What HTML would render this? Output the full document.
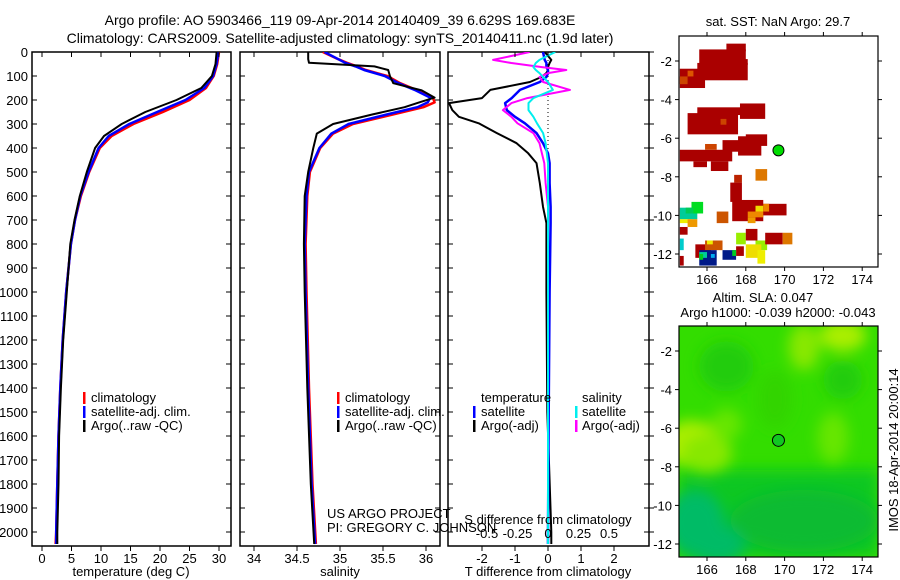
<!DOCTYPE html>
<html><head><meta charset="utf-8"><style>
html,body{margin:0;padding:0;background:#fff;}
svg{display:block;font-family:"Liberation Sans",sans-serif;}
text{font-size:13px;fill:#000;}
</style></head><body>
<svg id="fig" width="900" height="580" viewBox="0 0 900 580">
<defs>
<filter id="blur" x="-20%" y="-20%" width="140%" height="140%"><feGaussianBlur stdDeviation="7"/></filter>
<clipPath id="clip1"><rect x="679" y="36" width="199" height="231"/></clipPath>
<clipPath id="clip2"><rect x="679" y="326" width="199" height="231"/></clipPath>
<clipPath id="clipP1"><rect x="32" y="52" width="199" height="494"/></clipPath>
<clipPath id="clipP2"><rect x="240" y="52" width="200" height="494"/></clipPath>
<clipPath id="clipP3"><rect x="448" y="52" width="201" height="494"/></clipPath>
</defs>
<text x="340" y="25" text-anchor="middle" style="font-size:14px">Argo profile: AO 5903466_119 09-Apr-2014 20140409_39 6.629S 169.683E</text>
<text x="340" y="43" text-anchor="middle" style="font-size:14px">Climatology: CARS2009. Satellite-adjusted climatology: synTS_20140411.nc (1.9d later)</text>
<g id="g"></g>
</svg>
<script>
// ---------- data ----------
const depths = [0,50,100,150,200,250,300,350,400,500,600,700,800,1000,1200,1400,1600,1800,2000,2050];
const tempClim = [30.0,29.7,29.1,27.8,25.0,20.5,15.5,11.8,9.8,8.0,6.6,5.6,4.9,4.1,3.5,3.1,2.8,2.6,2.4,2.3];
const tempSat  = [29.9,29.6,29.0,27.5,24.3,19.5,14.8,11.3,9.6,7.9,6.5,5.6,4.9,4.1,3.5,3.1,2.8,2.6,2.4,2.4];
const tempArgo = [29.6,29.4,28.8,27.0,22.8,17.5,13.5,10.5,9.0,7.6,6.4,5.5,4.8,4.2,3.6,3.2,2.9,2.8,2.6,2.6];

const salDepths = [0,30,45,60,75,100,130,160,190,210,230,260,300,340,400,500,600,800,1000,1400,1800,2050];
const salClim = [34.80,34.98,35.08,35.20,35.30,35.55,35.70,35.90,36.08,36.10,35.97,35.62,35.15,34.92,34.77,34.65,34.62,34.60,34.61,34.64,34.68,34.72];
const salSat  = [34.82,34.98,35.06,35.18,35.28,35.52,35.68,35.88,36.05,36.02,35.90,35.55,35.10,34.90,34.76,34.64,34.61,34.59,34.60,34.63,34.67,34.71];
const salArgo = [34.63,34.63,34.64,35.40,35.56,35.58,35.62,35.95,36.10,35.92,35.75,35.38,34.92,34.73,34.69,34.63,34.59,34.58,34.59,34.62,34.66,34.70];

const diffDepths = [0,33,46,63,75,88,104,125,158,192,213,242,270,297,338,380,422,463,546,645,713,1000,1500,2000,2050];
const dTSat  = [-0.15,-0.1,-0.05,-0.05,0,0,-0.05,-0.25,-0.85,-1.1,-1.3,-1.25,-1.0,-0.7,-0.35,-0.15,0,0.05,0.05,0.08,0.08,0.05,0.02,0,0];
const dTArgo = [-0.1,0.1,0.05,0,0,-0.05,-0.2,-0.55,-1.75,-2.0,-3.0,-2.9,-2.7,-2.1,-1.55,-0.95,-0.6,-0.35,-0.25,-0.15,-0.05,-0.05,-0.02,0.1,0.1];
const dSSat  = [0.06,-0.07,-0.1,-0.12,-0.1,-0.07,-0.04,0,0.04,-0.12,-0.16,-0.16,-0.12,-0.09,-0.04,-0.02,-0.01,0,0,0,0,0,0,0,0];
const dSArgo = [-0.15,-0.45,-0.3,-0.05,0.15,0.0,-0.07,-0.04,0.18,-0.17,-0.3,-0.37,-0.3,-0.25,-0.12,-0.07,-0.05,-0.03,-0.02,0,0,0,0,0,0];

const depthTicks = [0,100,200,300,400,500,600,700,800,900,1000,1100,1200,1300,1400,1500,1600,1700,1800,1900,2000];
const tempTicks = [0,5,10,15,20,25,30];
const salTicks = [34,34.5,35,35.5,36];
const salTickLabels = ['34','34.5','35','35.5','36'];
const dTTicks = [-2,-1,0,1,2];
const dSTicks = [-0.5,-0.25,0,0.25,0.5];
const dSTickLabels = ['-0.5','-0.25','0','0.25','0.5'];

const lonTicks = [166,168,170,172,174];
const latTicks = [-2,-4,-6,-8,-10,-12];
const argoLon = 169.683, argoLat = -6.629;
// SST cells: lon0, lat0 (top), lon1, lat1 (bottom), colour
const sstCells = [
 [165.6,-1.4,168.0,-2.2,'#aa0000'],[167.0,-1.1,168.0,-1.5,'#aa0000'],
 [165.5,-2.1,168.1,-3.0,'#aa0000'],[167.0,-1.9,168.1,-2.2,'#aa0000'],
 [164.6,-2.4,165.9,-3.4,'#aa0000'],[164.6,-2.8,165.0,-3.2,'#cc4400'],[165.0,-2.5,165.3,-2.8,'#dd5500'],
 [165.0,-4.7,167.6,-5.8,'#aa0000'],[165.5,-4.4,168.0,-4.8,'#aa0000'],[167.7,-4.2,169.0,-5.0,'#aa0000'],[166.7,-5.0,167.0,-5.3,'#cc4400'],
 [164.6,-6.6,167.3,-7.2,'#aa0000'],[165.3,-7.2,166.0,-7.5,'#aa0000'],[166.2,-7.2,167.1,-7.7,'#aa0000'],[166.8,-6.1,168.0,-6.7,'#aa0000'],
 [167.6,-5.9,168.8,-6.9,'#aa0000'],[168.0,-5.8,169.1,-6.4,'#aa0000'],[165.9,-6.3,166.5,-6.6,'#cc4400'],
 [168.5,-7.6,169.1,-8.2,'#dd7700'],[167.2,-8.3,167.8,-9.3,'#aa0000'],[167.4,-7.9,167.8,-8.3,'#bb2200'],
 [167.3,-9.2,168.9,-10.3,'#aa0000'],[168.6,-9.4,170.1,-10.0,'#aa0000'],[168.5,-9.5,168.9,-9.8,'#eedd00'],[168.1,-9.8,168.9,-10.1,'#ee8800'],[168.9,-9.4,169.2,-9.8,'#ee8800'],[168.1,-10.1,168.5,-10.4,'#ee9900'],
 [166.5,-9.8,167.1,-10.4,'#cc5500'],[164.6,-9.6,165.5,-10.2,'#00cc99'],[165.2,-9.3,165.8,-9.9,'#00dd22'],[164.9,-9.6,165.3,-9.9,'#00cc55'],
 [164.6,-10.2,165.2,-10.4,'#eeee00'],[165.0,-10.2,165.5,-10.6,'#ee9900'],[164.6,-10.6,165.0,-11.0,'#aa0000'],
 [165.4,-11.5,166.2,-12.2,'#aa0000'],[165.9,-11.3,166.8,-11.8,'#cc5500'],[166.0,-11.3,166.3,-11.5,'#eeee00'],
 [165.6,-11.8,166.5,-12.6,'#001a88'],[165.6,-11.9,166.0,-12.2,'#00cc99'],[165.6,-12.0,165.8,-12.3,'#00cc22'],[166.2,-12.0,166.4,-12.2,'#00aaee'],
 [166.8,-11.8,167.5,-12.3,'#001a88'],[167.5,-11.6,167.9,-12.1,'#aa0000'],[167.3,-11.8,167.5,-12.1,'#00cc22'],
 [167.5,-10.9,168.0,-11.5,'#99ee00'],[168.0,-10.7,168.6,-11.3,'#aa0000'],[168.5,-11.3,169.1,-11.8,'#99ee00'],
 [168.0,-11.5,168.8,-12.2,'#eedd00'],[168.6,-11.8,169.0,-12.5,'#eeee00'],[169.0,-10.9,169.9,-11.5,'#aa0000'],[169.9,-10.9,170.4,-11.5,'#dd7700'],
 [164.6,-12.1,164.8,-12.6,'#aa0000'],[164.6,-11.2,164.8,-11.8,'#00cccc']
];
// SLA blobs: lon, lat, rx(deg), ry(deg), colour
const slaBlobs = [
 [165.2,-6.8,1.5,1.2,'#aaee00'],[166.0,-7.3,1.3,1.0,'#88e800'],[167.0,-5.8,0.8,0.8,'#66e600'],
 [172.5,-6.5,0.8,1.3,'#66e600'],[173.0,-1.2,1.2,0.8,'#aaee00'],[171.0,-1.8,0.8,1.2,'#88e800'],
 [167.0,-2.8,1.4,1.3,'#22cc11'],[165.4,-10.9,1.5,1.7,'#00bb66'],[166.5,-12.0,1.5,1.0,'#00bb66'],
 [171.0,-10.8,3.8,1.6,'#11bb33'],[169.5,-4.5,0.9,1.5,'#33d400'],[173.0,-3.5,1.0,1.0,'#22cc11']
];

// ---------- scales ----------
const yD = d => 52 + d*0.24;
const xT = t => 42 + t*5.9;
const xS = s => 254 + (s-34)*86;
const xDT = v => 548 + v*33;
const xDS = v => 548 + v*122;
const mx = lon => 707 + (lon-166)*19.4;
const my1 = lat => 61 + (-2-lat)*19.3;
const my2 = lat => 351 + (-2-lat)*19.3;

const NS='http://www.w3.org/2000/svg';
const G=document.getElementById('g');
function el(tag, attrs, parent){const e=document.createElementNS(NS,tag);for(const k in attrs)e.setAttribute(k,attrs[k]);(parent||G).appendChild(e);return e;}
function txt(x,y,s,anchor,parent){const t=el('text',{x:x,y:y,'text-anchor':anchor||'start'},parent);t.textContent=s;return t;}

function panel(x0,x1,name,clip){
  const r=el('rect',{x:x0,y:52,width:x1-x0,height:494,fill:'none',stroke:'#000','stroke-width':1.5});
  
  
  const gg=el('g',{'clip-path':'url(#'+clip+')'});
  
  
  depthTicks.forEach(d=>{
    el('line',{x1:x0,x2:x0+5,y1:yD(d),y2:yD(d),stroke:'#000'});
    el('line',{x1:x1-5,x2:x1,y1:yD(d),y2:yD(d),stroke:'#000'});
  });
  return gg;
}
function line(xs, ys, fx, colour, w, parent, name){
  const pts=xs.map((v,i)=>fx(v).toFixed(1)+','+yD(ys[i]).toFixed(1)).join(' ');
  const p=el('polyline',{points:pts,fill:'none',stroke:colour,'stroke-width':w,'stroke-linejoin':'round'},parent);
  
  
}
function xticks(ticks, labels, fx, x0, x1){
  ticks.forEach((t,i)=>{
    const x=fx(t);
    el('line',{x1:x,x2:x,y1:52,y2:57,stroke:'#000'});
    el('line',{x1:x,x2:x,y1:546,y2:551,stroke:'#000'});
    const l=txt(x,563,labels[i],'middle');
    
    
  });
}

// Panel 1: temperature
const p1=panel(32,231,'temperature-panel','clipP1');
depthTicks.forEach(d=>{const l=txt(28,yD(d)+5,String(d),'end');
  
  });
xticks(tempTicks,tempTicks.map(String),xT);
line(tempClim,depths,xT,'#ff0000',2.5,p1,'temp-climatology-line');
line(tempSat,depths,xT,'#0000ff',2.5,p1,'temp-satellite-line');
line(tempArgo,depths,xT,'#000000',2,p1,'temp-argo-line');
let t=txt(131,576,'temperature (deg C)','middle');



// Panel 2: salinity
const p2=panel(240,440,'salinity-panel','clipP2');
xticks(salTicks,salTickLabels,xS);
line(salClim,salDepths,xS,'#ff0000',2.5,p2,'sal-climatology-line');
line(salSat,salDepths,xS,'#0000ff',2.5,p2,'sal-satellite-line');
line(salArgo,salDepths,xS,'#000000',2,p2,'sal-argo-line');
t=txt(340,576,'salinity','middle');



// Panel 3: differences
const p3=panel(448,649,'difference-panel','clipP3');
depthTicks.forEach(d=>{el('line',{x1:649,x2:654,y1:yD(d),y2:yD(d),stroke:'#000'});});
xticks(dTTicks,dTTicks.map(String),xDT);
dSTicks.forEach((v,i)=>{const l=txt(xDS(v),538,dSTickLabels[i],'middle');
  
  });
el('line',{x1:548,x2:548,y1:52,y2:300,stroke:'#000','stroke-dasharray':'1,3'},p3);
line(dTArgo,diffDepths,xDT,'#000000',2,p3,'tdiff-argo-line');
line(dTSat,diffDepths,xDT,'#0000ff',2.5,p3,'tdiff-satellite-line');
line(dSArgo,diffDepths,xDS,'#ff00ff',2,p3,'sdiff-argo-line');
line(dSSat,diffDepths,xDS,'#00eeee',2,p3,'sdiff-satellite-line');
t=txt(548,524,'S difference from climatology','middle');


t=txt(548,576,'T difference from climatology','middle');



// Legends
function legItem(bx,tx,y,colour,label,name){
  const g=el('g',{});
  
  
  if(colour) el('rect',{x:bx,y:y-10,width:2.5,height:12,fill:colour},g);
  txt(tx,y,label,'start',g);
}
[['#ff0000','climatology'],['#0000ff','satellite-adj. clim.'],['#000000','Argo(..raw -QC)']].forEach((it,i)=>{
  legItem(83,91,402+i*14,it[0],it[1],'temp-legend-entry');
  legItem(337,345,402+i*14,it[0],it[1],'sal-legend-entry');
});
legItem(0,481,402,null,'temperature','diff-legend-header');
legItem(0,582,402,null,'salinity','diff-legend-header');
legItem(473,481,416,'#0000ff','satellite','tdiff-legend-entry');
legItem(473,481,430,'#000000','Argo(-adj)','tdiff-legend-entry');
legItem(575,582,416,'#00eeee','satellite','sdiff-legend-entry');
legItem(575,582,430,'#ff00ff','Argo(-adj)','sdiff-legend-entry');

t=txt(327,518,'US ARGO PROJECT');


t=txt(327,532,'PI: GREGORY C. JOHNSON');



// Maps
function mapAxes(my,top,name){
  const r=el('rect',{x:679,y:top,width:199,height:231,fill:'none',stroke:'#000','stroke-width':1.2});
  
  
  lonTicks.forEach(l=>{const x=mx(l);
    el('line',{x1:x,x2:x,y1:top-4,y2:top,stroke:'#000'});
    el('line',{x1:x,x2:x,y1:top+231,y2:top+235,stroke:'#000'});
    const tl=txt(x,top+248,String(l),'middle');
    
    });
  latTicks.forEach(l=>{const y=my(l);
    el('line',{x1:675,x2:679,y1:y,y2:y,stroke:'#000'});
    el('line',{x1:878,x2:882,y1:y,y2:y,stroke:'#000'});
    const tl=txt(672,y+5,String(l),'end');
    
    });
}
// SST map
const m1=el('g',{'clip-path':'url(#clip1)'});


sstCells.forEach(c=>{
  const r=el('rect',{x:mx(c[0]),y:my1(c[1]),width:mx(c[2])-mx(c[0]),height:my1(c[3])-my1(c[1]),fill:c[4]},m1);
  
  
});
let c=el('circle',{cx:mx(argoLon),cy:my1(argoLat),r:5.5,fill:'#00dd00',stroke:'#000','stroke-width':1});


mapAxes(my1,36,'sst-map');
t=txt(778,26,'sat. SST: NaN Argo: 29.7','middle');



// SLA map
const m2=el('g',{'clip-path':'url(#clip2)'});


el('rect',{x:679,y:326,width:199,height:231,fill:'#33dd00'},m2);
el('rect',{x:679,y:470,width:199,height:87,fill:'#11c722',filter:'url(#blur)'},m2);
const bg=el('g',{filter:'url(#blur)'},m2);
slaBlobs.forEach(b=>{
  const e=el('ellipse',{cx:mx(b[0]),cy:my2(b[1]),rx:b[2]*19.4,ry:b[3]*19.3,fill:b[4]},bg);
  
  
});
c=el('circle',{cx:mx(argoLon),cy:my2(argoLat),r:6,fill:'#11c722',stroke:'#000','stroke-width':1});


mapAxes(my2,326,'sla-map');
t=txt(763,302,'Altim. SLA: 0.047','middle');


t=txt(778,317,'Argo h1000: -0.039 h2000: -0.043','middle');


t=txt(0,0,'IMOS 18-Apr-2014 20:00:14','middle');
t.setAttribute('transform','translate(898,450) rotate(-90)');


</script>
</body></html>
